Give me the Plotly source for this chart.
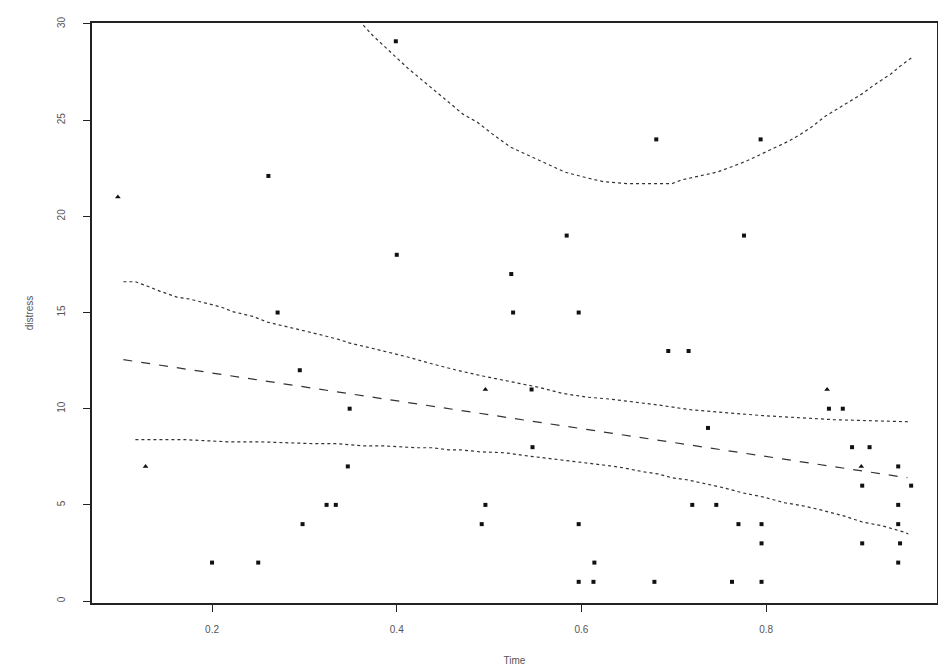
import plotly.graph_objects as go

# scatter points (square markers)
sq_x = [0.261, 0.399, 0.271, 0.400, 0.524, 0.526, 0.584, 0.597, 0.681, 0.794,
        0.776, 0.694, 0.716, 0.295, 0.349, 0.546, 0.868, 0.883, 0.737, 0.547,
        0.893, 0.912, 0.904, 0.957, 0.943, 0.347, 0.720, 0.746, 0.943, 0.324,
        0.334, 0.496, 0.597, 0.770, 0.795, 0.943, 0.298, 0.492, 0.795, 0.904,
        0.945, 0.943, 0.614, 0.200, 0.250, 0.597, 0.613, 0.679, 0.763, 0.795]
sq_y = [22.1, 29.1, 15, 18, 17, 15, 19, 15, 24, 24,
        19, 13, 13, 12, 10, 11, 10, 10, 9, 8,
        8, 8, 6, 6, 7, 7, 5, 5, 5, 5,
        5, 5, 4, 4, 4, 4, 4, 4, 3, 3,
        3, 2, 2, 2, 2, 1, 1, 1, 1, 1]

# scatter points (triangle markers)
tri_x = [0.098, 0.496, 0.866, 0.903, 0.128]
tri_y = [21.0, 11, 11, 7, 7]

# upper curved band
up_x = [0.355, 0.364, 0.374, 0.412, 0.429, 0.452, 0.472, 0.487, 0.503, 0.523,
        0.541, 0.559, 0.582, 0.606, 0.624, 0.650, 0.678, 0.698, 0.709, 0.729,
        0.747, 0.764, 0.780, 0.802, 0.824, 0.835, 0.848, 0.864, 0.891, 0.905,
        0.916, 0.935, 0.945, 0.953, 0.959]
up_y = [30.4, 29.9, 29.4, 27.7, 27.0, 26.1, 25.3, 24.9, 24.3, 23.6,
        23.2, 22.8, 22.3, 22.0, 21.8, 21.7, 21.7, 21.7, 21.9, 22.1,
        22.3, 22.6, 22.9, 23.4, 23.9, 24.2, 24.6, 25.2, 26.0, 26.4,
        26.8, 27.4, 27.8, 28.1, 28.3]

# upper descending band
hi_x = [0.104, 0.117, 0.131, 0.144, 0.162, 0.176, 0.192, 0.209, 0.222, 0.244,
        0.260, 0.287, 0.303, 0.317, 0.337, 0.350, 0.368, 0.411, 0.433, 0.465,
        0.493, 0.523, 0.555, 0.579, 0.606, 0.631, 0.650, 0.682, 0.718, 0.745,
        0.769, 0.796, 0.837, 0.873, 0.956]
hi_y = [16.6, 16.6, 16.35, 16.1, 15.8, 15.7, 15.5, 15.3, 15.05, 14.8,
        14.5, 14.2, 14.0, 13.85, 13.6, 13.4, 13.2, 12.7, 12.4, 12.0,
        11.7, 11.4, 11.1, 10.8, 10.6, 10.5, 10.4, 10.2, 9.95, 9.84,
        9.74, 9.64, 9.53, 9.43, 9.32]

# fitted line (dashed)
fit_x = [0.104, 0.520, 0.953]
fit_y = [12.55, 9.53, 6.41]

# lower band
lo_x = [0.117, 0.171, 0.217, 0.250, 0.312, 0.335, 0.364, 0.385, 0.422, 0.439,
        0.456, 0.469, 0.490, 0.517, 0.541, 0.559, 0.585, 0.598, 0.631, 0.645,
        0.667, 0.683, 0.698, 0.715, 0.737, 0.754, 0.774, 0.796, 0.821, 0.840,
        0.859, 0.884, 0.904, 0.926, 0.949, 0.954]
lo_y = [8.39, 8.39, 8.28, 8.28, 8.18, 8.18, 8.07, 8.07, 7.97, 7.97,
        7.86, 7.86, 7.76, 7.71, 7.55, 7.45, 7.29, 7.24, 7.03, 6.93,
        6.72, 6.61, 6.41, 6.30, 6.09, 5.89, 5.63, 5.42, 5.10, 4.95,
        4.74, 4.43, 4.11, 3.91, 3.59, 3.49]

x_ticks = [0.2, 0.4, 0.6, 0.8]
x_tick_labels = ["0.2", "0.4", "0.6", "0.8"]
y_ticks = [0, 5, 10, 15, 20, 25, 30]
y_tick_labels = ["0", "5", "10", "15", "20", "25", "30"]

fig = go.Figure()
line_c = "#333333"
fig.add_trace(go.Scatter(x=up_x, y=up_y, mode="lines",
                         line=dict(color=line_c, width=1.2, dash="dot")))
fig.add_trace(go.Scatter(x=hi_x, y=hi_y, mode="lines",
                         line=dict(color=line_c, width=1.2, dash="dot")))
fig.add_trace(go.Scatter(x=fit_x, y=fit_y, mode="lines",
                         line=dict(color=line_c, width=1.2, dash="dash")))
fig.add_trace(go.Scatter(x=lo_x, y=lo_y, mode="lines",
                         line=dict(color=line_c, width=1.2, dash="dot")))
fig.add_trace(go.Scatter(x=sq_x, y=sq_y, mode="markers",
                         marker=dict(symbol="square", size=4, color="#111111")))
fig.add_trace(go.Scatter(x=tri_x, y=tri_y, mode="markers",
                         marker=dict(symbol="triangle-up", size=5, color="#111111")))

font = dict(family="Liberation Sans, Arial, sans-serif", size=10, color="#555555")
# page body has an 8px default margin, so the figure is sized to fit the window
fig.update_layout(
    width=938, height=658,
    margin=dict(l=84, r=9, t=15, b=63),
    paper_bgcolor="white", plot_bgcolor="white",
    showlegend=False, font=font,
)
fig.update_xaxes(range=[0.070, 0.985], tickvals=x_ticks, ticktext=x_tick_labels,
                 ticks="outside", ticklen=7, tickcolor="#222222", automargin=False,
                 showline=True, linecolor="#222222", linewidth=1.5, mirror=True,
                 showgrid=False, zeroline=False, ticklabelstandoff=9,
                 title=dict(text="Time", standoff=24, font=font))
fig.update_yaxes(range=[-0.1, 30.05], tickvals=y_ticks, ticktext=y_tick_labels,
                 ticks="outside", ticklen=7, tickcolor="#222222", tickangle=-90,
                 automargin=False,
                 showline=True, linecolor="#222222", linewidth=1.5, mirror=True,
                 showgrid=False, zeroline=False, ticklabelstandoff=14,
                 title=dict(text="distress", standoff=21, font=font))

fig.write_html("out.html")
